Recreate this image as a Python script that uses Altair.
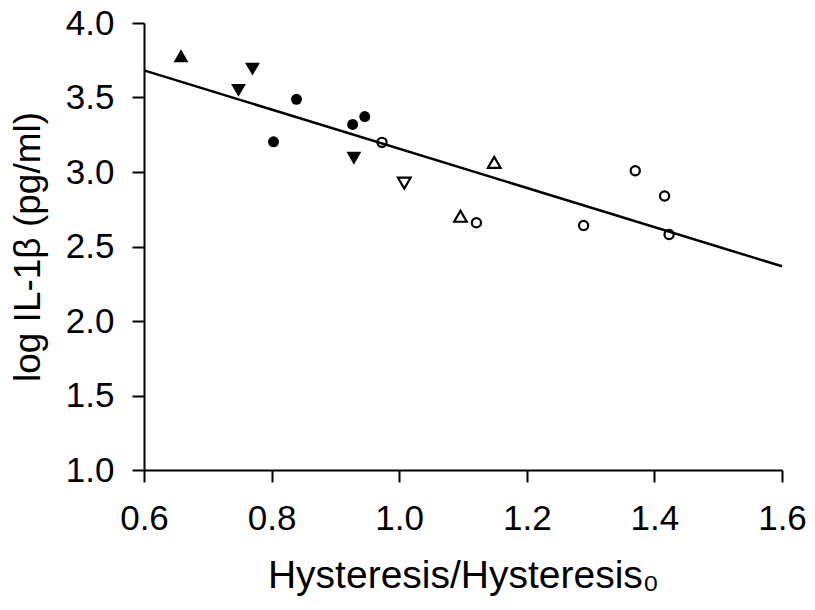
import altair as alt
import pandas as pd

# Data
tri_up_filled_x = [0.658]
tri_up_filled_y = [3.78]

tri_down_filled_x = [0.748, 0.770, 0.929]
tri_down_filled_y = [3.548, 3.69, 3.092]

circ_filled_x = [0.803, 0.839, 0.927, 0.946]
circ_filled_y = [3.203, 3.488, 3.319, 3.372]

circ_open_x = [0.973, 1.121, 1.289, 1.370, 1.416, 1.423]
circ_open_y = [3.199, 2.659, 2.641, 3.008, 2.839, 2.581]

tri_down_open_x = [1.008]
tri_down_open_y = [2.925]

tri_up_open_x = [1.096, 1.149]
tri_up_open_y = [2.703, 3.065]

fit_x = [0.6, 1.6]
fit_y = [3.682, 2.367]

x_ticks = [0.6, 0.8, 1.0, 1.2, 1.4, 1.6]
y_ticks = [1.0, 1.5, 2.0, 2.5, 3.0, 3.5, 4.0]

FONT = "Liberation Sans"

x_scale = alt.Scale(domain=[0.6, 1.6], nice=False, zero=False)
y_scale = alt.Scale(domain=[1.0, 4.0], nice=False, zero=False)

x_axis = alt.Axis(
    values=x_ticks, format=".1f", grid=False,
    tickSize=12, tickWidth=2, tickColor="black",
    domainWidth=2, domainColor="black",
    labelFontSize=35, labelFont=FONT, labelColor="black", labelPadding=19,
    labelFlush=False, labelOverlap=False,
    title="Hysteresis/Hysteresis\u2080", titleFont=FONT, titleFontSize=39,
    titleFontWeight="normal", titleColor="black", titlePadding=20,
)
y_axis = alt.Axis(
    values=y_ticks, format=".1f", grid=False,
    tickSize=12, tickWidth=2, tickColor="black",
    domainWidth=2, domainColor="black",
    labelFontSize=35, labelFont=FONT, labelColor="black", labelPadding=18,
    labelFlush=False, labelOverlap=False,
    title="log IL-1\u03b2 (pg/ml)", titleFont=FONT, titleFontSize=37,
    titleFontWeight="normal", titleColor="black", titlePadding=18,
)


def pts(xs, ys, shape, filled, size, stroke_w=2.2):
    df = pd.DataFrame({"x": xs, "y": ys})
    if filled:
        mark = alt.Chart(df).mark_point(shape=shape, filled=True, size=size,
                                        color="black", opacity=1)
    else:
        mark = alt.Chart(df).mark_point(shape=shape, filled=False, size=size,
                                        color="black", strokeWidth=stroke_w,
                                        opacity=1)
    return mark.encode(
        x=alt.X("x:Q", scale=x_scale, axis=x_axis),
        y=alt.Y("y:Q", scale=y_scale, axis=y_axis),
    )


fit_df = pd.DataFrame({"x": fit_x, "y": fit_y})
line = alt.Chart(fit_df).mark_line(color="black", strokeWidth=2.5).encode(
    x=alt.X("x:Q", scale=x_scale, axis=x_axis),
    y=alt.Y("y:Q", scale=y_scale, axis=y_axis),
)

chart = alt.layer(
    line,
    pts(tri_up_filled_x, tri_up_filled_y, "triangle-up", True, 220),
    pts(tri_down_filled_x, tri_down_filled_y, "triangle-down", True, 220),
    pts(circ_filled_x, circ_filled_y, "circle", True, 120),
    pts(circ_open_x, circ_open_y, "circle", False, 85),
    pts(tri_down_open_x, tri_down_open_y, "triangle-down", False, 160),
    pts(tri_up_open_x, tri_up_open_y, "triangle-up", False, 160),
).properties(
    width=638,
    height=447,
    autosize=alt.AutoSizeParams(type="none"),
    padding={"left": 136, "top": 15, "right": 25, "bottom": 130},
    background="white",
).configure_view(stroke=None)

chart.save("out.html", embed_options={"renderer": "svg", "actions": False})
